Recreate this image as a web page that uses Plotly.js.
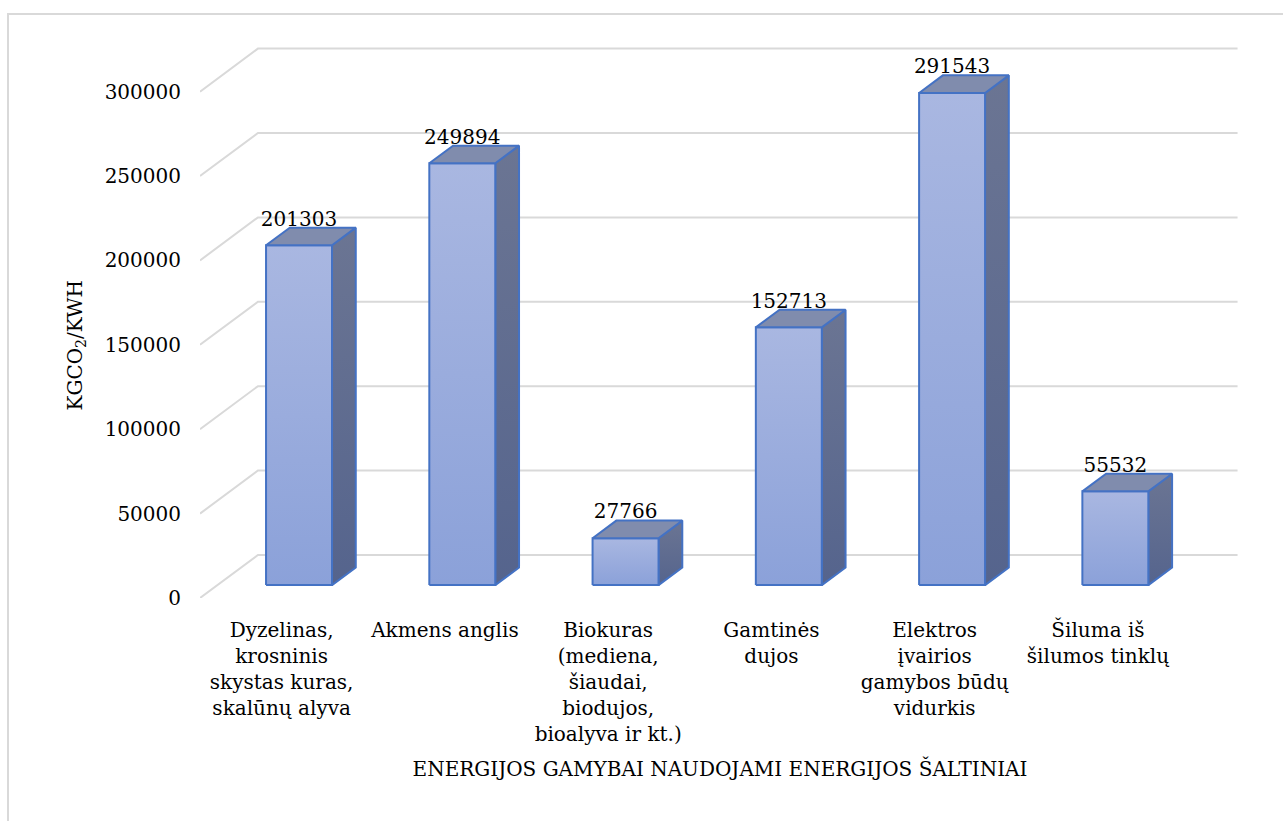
<!DOCTYPE html>
<html>
<head>
<meta charset="utf-8">
<script src="https://cdn.plot.ly/plotly-3.0.1.min.js"></script>
<style>
  html, body { margin: 0; padding: 0; background: #ffffff; }
  #chart { position: absolute; left: 0; top: 0; width: 1283px; height: 821px; }
  #frame { position: absolute; left: 7px; top: 13px; right: -4px; bottom: -4px;
           border: 2px solid #d9d9d9; pointer-events: none; }
</style>
</head>
<body>
<div id="chart"></div>
<div id="frame"></div>
<script>
// Energy sources (category axis)
const categories = [
  'Dyzelinas,<br>krosninis<br>skystas kuras,<br>skalūnų alyva',
  'Akmens anglis',
  'Biokuras<br>(mediena,<br>šiaudai,<br>biodujos,<br>bioalyva ir kt.)',
  'Gamtinės<br>dujos',
  'Elektros<br>įvairios<br>gamybos būdų<br>vidurkis',
  'Šiluma iš<br>šilumos tinklų'
];

// Emissions per source
const values = [201303, 249894, 27766, 152713, 291543, 55532];

// Value axis ticks
const tickValues = [0, 50000, 100000, 150000, 200000, 250000, 300000];
const tickLabels = ['0', '50000', '100000', '150000', '200000', '250000', '300000'];

const xTitle = 'ENERGIJOS GAMYBAI NAUDOJAMI ENERGIJOS ŠALTINIAI';
const yTitle = 'KGCO<sub>2</sub>/KWH';

// Oblique projection of the depth direction, in axis units
const DEPTH_X = 0.355;   // category units per full depth
const DEPTH_Y = 25500;   // value units per full depth
const FRONT = 0.30;      // depth fraction of a bar's front face
const BACK = 0.71;       // depth fraction of a bar's back face
const HALF = 0.202;      // half bar width, category units
const LABEL_LIFT = 4200; // value-label centre above a bar's back top edge

const FONT = 'DejaVu Serif';
const EDGE = { color: '#4472c4', width: 2 };

const traces = [];

// Back wall and side wall gridlines
const nCat = categories.length;
const gx = [], gy = [];
tickValues.forEach(function (t) {
  gx.push(-0.5, -0.5 + DEPTH_X, nCat - 0.5 + DEPTH_X, null);
  gy.push(t, t + DEPTH_Y, t + DEPTH_Y, null);
});
traces.push({
  type: 'scatter', mode: 'lines', x: gx, y: gy,
  line: { color: '#d9d9d9', width: 2 }, hoverinfo: 'skip'
});

// 3-D bars: side face, front face, top face
const dx = (BACK - FRONT) * DEPTH_X;
const dy = (BACK - FRONT) * DEPTH_Y;
const topX = [], topY = [];
values.forEach(function (v, i) {
  const cx = i + FRONT * DEPTH_X;
  const x0 = cx - HALF, x1 = cx + HALF;
  const y0 = FRONT * DEPTH_Y, y1 = v + FRONT * DEPTH_Y;

  traces.push({
    type: 'scatter', mode: 'lines', fill: 'toself',
    x: [x1, x1 + dx, x1 + dx, x1, x1],
    y: [y0, y0 + dy, y1 + dy, y1, y0],
    line: EDGE,
    fillgradient: { type: 'vertical', colorscale: [[0, '#55648d'], [1, '#6b7593']] },
    hoverinfo: 'skip'
  });
  traces.push({
    type: 'scatter', mode: 'lines', fill: 'toself',
    x: [x0, x1, x1, x0, x0],
    y: [y0, y0, y1, y1, y0],
    line: EDGE,
    fillgradient: { type: 'vertical', colorscale: [[0, '#8ba1d9'], [1, '#a9b7e1']] },
    hovertemplate: categories[i].replace(/<br>/g, ' ') + ': ' + v + '<extra></extra>'
  });
  topX.push(x0, x1, x1 + dx, x0 + dx, x0, null);
  topY.push(y1, y1, y1 + dy, y1 + dy, y1, null);
});
traces.push({
  type: 'scatter', mode: 'lines', fill: 'toself',
  x: topX, y: topY, line: EDGE, fillcolor: '#808cad', hoverinfo: 'skip'
});

// Value labels above each bar
traces.push({
  type: 'scatter', mode: 'text',
  x: values.map(function (v, i) { return i + FRONT * DEPTH_X; }),
  y: values.map(function (v) { return v + BACK * DEPTH_Y + LABEL_LIFT; }),
  text: values.map(String),
  textposition: 'middle center',
  textfont: { family: FONT, size: 20, color: '#000000' },
  cliponaxis: false, hoverinfo: 'skip'
});

const layout = {
  width: 1283, height: 821,
  margin: { l: 200, r: 43, t: 41, b: 223, pad: 0 },
  paper_bgcolor: '#ffffff', plot_bgcolor: 'rgba(0,0,0,0)',
  showlegend: false,
  font: { family: FONT, size: 20, color: '#000000' },
  xaxis: {
    range: [-0.5, 5.87],
    tickmode: 'array',
    tickvals: categories.map(function (c, i) { return i; }),
    ticktext: categories,
    tickangle: 0,
    ticks: '', showgrid: false, zeroline: false, showline: false,
    ticklabelstandoff: 18,
    tickfont: { family: FONT, size: 20, color: '#000000' },
    title: { text: xTitle, font: { family: FONT, size: 20, color: '#000000' }, standoff: 16 },
    fixedrange: true
  },
  yaxis: {
    range: [0, 330000],
    tickmode: 'array',
    tickvals: tickValues,
    ticktext: tickLabels,
    ticks: '', showgrid: false, zeroline: false, showline: false,
    ticklabelstandoff: 18,
    tickfont: { family: FONT, size: 20, color: '#000000' },
    fixedrange: true
  },
  annotations: [{
    text: yTitle, xref: 'paper', yref: 'paper',
    x: (75.5 - 200) / 1040, y: (598 - 345) / 557,
    xanchor: 'center', yanchor: 'middle', textangle: -90, showarrow: false,
    font: { family: FONT, size: 20, color: '#000000' }
  }]
};

Plotly.newPlot('chart', traces, layout, { displayModeBar: false });
</script>
</body>
</html>
